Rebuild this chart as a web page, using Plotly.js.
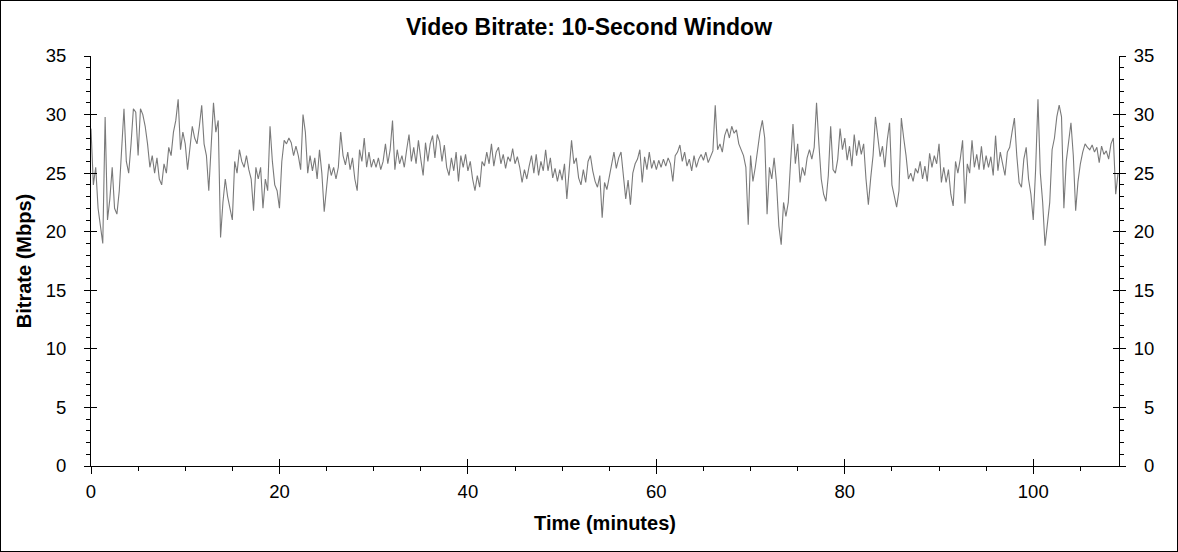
<!DOCTYPE html>
<html>
<head>
<meta charset="utf-8">
<script src="https://cdn.plot.ly/plotly-3.0.1.min.js"></script>
<style>
  html, body { margin: 0; padding: 0; background: #fff; }
  #wrap { position: relative; width: 1178px; height: 552px; }
  #chart { width: 1178px; height: 552px; }
  /* thin black frame round the whole picture */
  #frame {
    position: absolute; left: 0; top: 0; width: 1178px; height: 552px;
    box-sizing: border-box; border: 1px solid #000; pointer-events: none;
  }
</style>
</head>
<body>
<div id="wrap"><div id="chart"></div><div id="frame"></div></div>
<script>
// ---------------------------------------------------------------------------
// Data: bitrate (Mbps), one sample every 15 s (0.25 min)
// ---------------------------------------------------------------------------
const sampleStep = 0.25; // minutes between samples

const bitrateMbps = [
  28.8, 24, 25.5, 22, 20.5, 19, 29.8, 21,           // 0-2 min
  22.8, 25.5, 22, 21.5, 23.5, 27, 30.5, 26,
  25, 27.5, 30.5, 30.2, 26.5, 30.5, 30, 29,
  27.5, 25.5, 26.5, 25, 26.3, 24.5, 24, 25.8,
  25, 27.2, 26.5, 28.5, 29.5, 31.3, 27, 28.5,
  27.5, 25.3, 27, 29, 28, 27.5, 29, 30.8,           // 10-12 min
  27.5, 26.5, 23.5, 27, 31, 28.5, 29.5, 19.5,
  22.5, 24.5, 23, 22, 21, 26, 25, 27,
  26, 25.5, 26.5, 25.3, 24.5, 21.8, 25.5, 24.5,
  25.5, 22, 24.5, 23.5, 29, 26, 24, 23.5,
  22, 26, 27.8, 27.5, 28, 27.6, 26.5, 27.3,         // 20-22 min
  26.5, 25.3, 30, 28.5, 25, 26.5, 25.2, 26.3,
  24.5, 27, 25, 21.7, 23.5, 25.8, 24.8, 25.5,
  24.5, 25.5, 28.5, 26.5, 25.7, 26.8, 25.3, 26.3,
  24.5, 23.5, 27, 26, 28, 25.5, 26.8, 25.5,
  26.2, 25.5, 26.3, 25.3, 26, 27.5, 25.8, 27,       // 30-32 min
  29.5, 25.3, 27, 25.8, 26.5, 25.5, 27, 28.3,
  26, 27.2, 25.8, 27.8, 26.2, 24.8, 27.6, 26,
  27.5, 28.2, 26.3, 28.3, 27.7, 26, 27.4, 25.5,
  24.8, 26.3, 25.2, 26.8, 24.3, 26.5, 25.5, 26.6,
  25.2, 26, 24.5, 23.5, 24.8, 23.8, 26, 25.6,       // 40-42 min
  26.8, 25.8, 27.5, 25.6, 26.8, 27.2, 25.8, 26.6,
  25.4, 26.4, 26, 27.1, 25.8, 26.4, 25.5, 24.2,
  25.3, 24.5, 25.6, 26.5, 25, 26.6, 24.8, 26,
  25.2, 27, 25.2, 26.3, 24.6, 25.4, 24.3, 25.3,
  24.4, 25.8, 22.8, 25, 27.8, 25.8, 26.3, 24.6,     // 50-52 min
  24, 25.3, 24.2, 26, 26.5, 25.2, 24.3, 23.8,
  24.8, 21.2, 24.2, 23.6, 24.6, 25.8, 26.8, 25.4,
  26.3, 26.8, 24.6, 22.8, 24.4, 22.3, 25, 25.8,
  26.2, 27, 24.2, 26.4, 25.3, 26.8, 25.4, 26.1,
  25.3, 26.1, 25.5, 26.2, 25.6, 26.3, 25.8, 24.3,   // 60-62 min
  26.5, 26.8, 27.4, 26, 26.8, 25.6, 26.2, 25.2,
  26.5, 25.5, 26.2, 26.6, 26.1, 26.8, 25.9, 26.4,
  26.9, 30.8, 27, 27.5, 26.8, 28.2, 28.8, 28,
  29, 28.4, 28.7, 27.5, 27, 26.5, 25.5, 20.6,
  26.5, 24.3, 25.5, 27.2, 28.5, 29.5, 28, 21.5,     // 70-72 min
  25.5, 24.5, 26.3, 24.2, 20.5, 18.9, 22.5, 21.3,
  22.5, 26, 29.2, 25.8, 27.5, 24.2, 25.5, 24.8,
  26.3, 27, 26.2, 27.2, 31, 27.5, 24.5, 23.2,
  22.6, 24.8, 29, 25.3, 25, 26.2, 28.8, 27,
  28, 26.1, 27.3, 25.6, 28.3, 26.5, 27.8, 26.6,     // 80-82 min
  27.5, 24.5, 22.3, 24.6, 26.5, 29.8, 28.3, 26.4,
  27.3, 25.5, 27.8, 29.3, 24, 23, 22.1, 23.5,
  29.7, 28, 26.5, 24.5, 25, 24.3, 25.4, 25,
  26, 24.5, 25.6, 24.3, 26.7, 25.5, 26.5, 25.8,
  27.5, 24.2, 25.5, 24.2, 25.3, 23.2, 22.2, 26,     // 90-92 min
  25, 26.2, 27.8, 22.4, 25.8, 25, 27.8, 25.5,
  26.6, 25.3, 27.3, 25.3, 26.5, 25.5, 26.4, 24.8,
  28.2, 25.2, 26.8, 25.8, 24.8, 26.8, 27.2, 28.5,
  29.7, 26.5, 24.2, 23.8, 26.2, 27.2, 24.5, 23.2,
  21, 25.3, 31.3, 25, 22.5, 18.8, 20.5, 22.5,       // 100-102 min
  27, 28, 29.8, 30.8, 29.8, 22, 26, 27.5,
  29.3, 26.5, 21.8, 24.3, 25.8, 26.8, 27.5, 27.2,
  27, 27.4, 26.8, 27.2, 25.9, 27.3, 26.6, 26.9,
  26.2, 27.5, 28, 23.2, 25
];

const timeMinutes = bitrateMbps.map((_, i) => i * sampleStep);

// Right-hand labels are right aligned in the original, so pad the single digits
const yTickVals = [0, 5, 10, 15, 20, 25, 30, 35];
const yTickTextRight = ["\u00a0\u00a00", "\u00a0\u00a05", "10", "15", "20", "25", "30", "35"];

const xRange = [0, 109.1];
const yRange = [0, 35];

const FONT = '"Liberation Sans", Arial, sans-serif';
const BLACK = "#000000";

function makeChart() {
  const traces = [
    {
      x: timeMinutes,
      y: bitrateMbps,
      type: "scatter",
      mode: "lines",
      line: { color: "#7a7a7a", width: 1.1 },
      hoverinfo: "skip",
      showlegend: false,
    },
    // empty traces so the overlay axes (inner tick halves, right axis) exist
    { x: [xRange[0]], y: [null], xaxis: "x2", yaxis: "y2", mode: "lines", showlegend: false, hoverinfo: "skip" },
    { x: [xRange[0]], y: [null], xaxis: "x", yaxis: "y3", mode: "lines", showlegend: false, hoverinfo: "skip" },
    { x: [xRange[0]], y: [null], xaxis: "x", yaxis: "y4", mode: "lines", showlegend: false, hoverinfo: "skip" },
  ];

  const tickFont = { family: FONT, size: 18.5, color: BLACK };
  const titleFont = { family: FONT, size: 20, color: BLACK, weight: "bold" };

  const layout = {
    width: 1178,
    height: 552,
    margin: { l: 91, r: 59, t: 56, b: 86 },
    paper_bgcolor: "#ffffff",
    plot_bgcolor: "#ffffff",
    showlegend: false,
    title: {
      text: "Video Bitrate: 10-Second Window",
      font: { family: FONT, size: 23, color: BLACK, weight: "bold" },
      x: 0.5,
      xref: "container",
      y: 1 - 27 / 552,
      yref: "container",
      yanchor: "middle",
    },
    xaxis: {
      range: xRange,
      fixedrange: true,
      tickmode: "linear",
      tick0: 0,
      dtick: 20,
      ticks: "outside",
      ticklen: 7,
      tickwidth: 1,
      tickcolor: BLACK,
      minor: { tickmode: "linear", tick0: 0, dtick: 5, ticks: "outside", ticklen: 4, tickwidth: 1, tickcolor: BLACK, showgrid: false },
      showline: true,
      linecolor: BLACK,
      linewidth: 1,
      showgrid: false,
      zeroline: false,
      tickfont: tickFont,
      ticklabelstandoff: 2,
      automargin: false,
      title: { text: "Time (minutes)", font: titleFont, standoff: 14 },
    },
    xaxis2: {
      overlaying: "x",
      anchor: "y2",
      range: xRange,
      fixedrange: true,
      tickmode: "linear",
      tick0: 0,
      dtick: 20,
      ticks: "inside",
      ticklen: 7,
      tickwidth: 1,
      tickcolor: BLACK,
      showticklabels: false,
      showline: false,
      showgrid: false,
      zeroline: false,
    },
    yaxis: {
      range: yRange,
      fixedrange: true,
      tickmode: "linear",
      tick0: 0,
      dtick: 5,
      ticks: "outside",
      ticklen: 6,
      tickwidth: 1,
      tickcolor: BLACK,
      minor: { tickmode: "linear", tick0: 0, dtick: 1, ticks: "outside", ticklen: 4, tickwidth: 1, tickcolor: BLACK, showgrid: false },
      showline: true,
      linecolor: BLACK,
      linewidth: 1,
      showgrid: false,
      zeroline: false,
      tickfont: tickFont,
      ticklabelstandoff: 14,
      automargin: false,
      title: { text: "Bitrate (Mbps)", font: titleFont, standoff: 8 },
    },
    yaxis2: {
      overlaying: "y",
      anchor: "x2",
      range: yRange,
      fixedrange: true,
      tickmode: "linear",
      tick0: 0,
      dtick: 5,
      ticks: "inside",
      ticklen: 6,
      tickwidth: 1,
      tickcolor: BLACK,
      showticklabels: false,
      showline: false,
      showgrid: false,
      zeroline: false,
    },
    yaxis3: {
      overlaying: "y",
      side: "right",
      anchor: "x",
      range: yRange,
      fixedrange: true,
      tickmode: "array",
      tickvals: yTickVals,
      ticktext: yTickTextRight,
      ticks: "outside",
      ticklen: 6,
      tickwidth: 1,
      tickcolor: BLACK,
      minor: { tickmode: "linear", tick0: 0, dtick: 1, ticks: "outside", ticklen: 4, tickwidth: 1, tickcolor: BLACK, showgrid: false },
      showline: true,
      linecolor: BLACK,
      linewidth: 1,
      showgrid: false,
      zeroline: false,
      tickfont: tickFont,
      ticklabelstandoff: 4,
      automargin: false,
    },
    yaxis4: {
      overlaying: "y",
      side: "right",
      anchor: "x",
      range: yRange,
      fixedrange: true,
      tickmode: "linear",
      tick0: 0,
      dtick: 5,
      ticks: "inside",
      ticklen: 6,
      tickwidth: 1,
      tickcolor: BLACK,
      showticklabels: false,
      showline: false,
      showgrid: false,
      zeroline: false,
    },
  };

  const config = { staticPlot: true, displayModeBar: false };

  Plotly.newPlot("chart", traces, layout, config);
}

makeChart();
</script>
</body>
</html>
